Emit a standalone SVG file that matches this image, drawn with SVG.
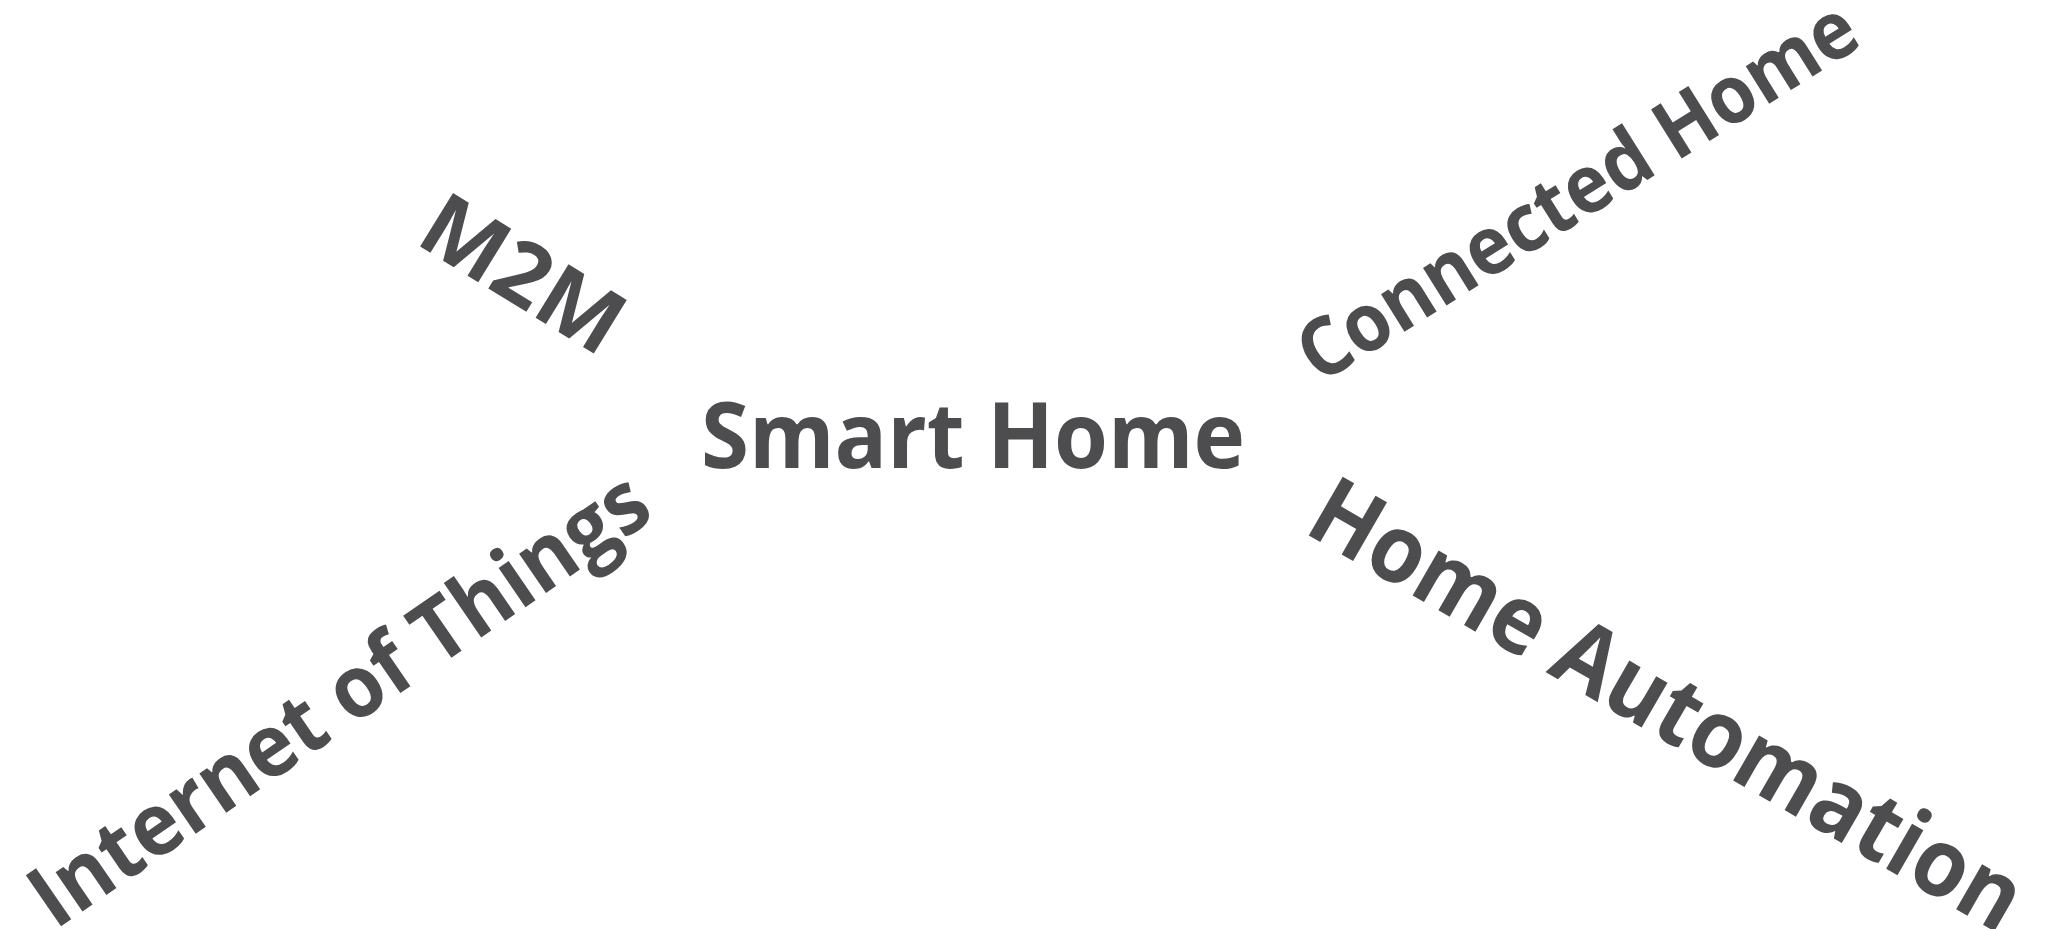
<svg xmlns="http://www.w3.org/2000/svg" width="2055" height="929" viewBox="0 0 2055 929">
<style>
text { font-family: "Open Sans", "Liberation Sans", sans-serif; font-weight: 700; fill: #4d4d4f; text-anchor: middle; }
</style>
<rect width="2055" height="929" fill="#ffffff"/>
<g id="smart-home"><text transform="translate(973,468)" font-size="92" textLength="544" lengthAdjust="spacingAndGlyphs">Smart Home</text></g>
<g id="m2m"><text transform="translate(507,300) rotate(31.6)" font-size="88" textLength="220" lengthAdjust="spacingAndGlyphs">M2M</text></g>
<g id="connected-home"><text transform="translate(1592,214.5) rotate(-32)" font-size="81" textLength="643" lengthAdjust="spacingAndGlyphs">Connected Home</text></g>
<g id="internet-of-things"><text transform="translate(355.8,723.7) rotate(-34.5)" font-size="87" textLength="730" lengthAdjust="spacingAndGlyphs">Internet of Things</text></g>
<g id="home-automation"><text transform="translate(1651,733) rotate(30)" font-size="95" textLength="806" lengthAdjust="spacingAndGlyphs">Home Automation</text></g>
<g id="connectors"></g>
</svg>
